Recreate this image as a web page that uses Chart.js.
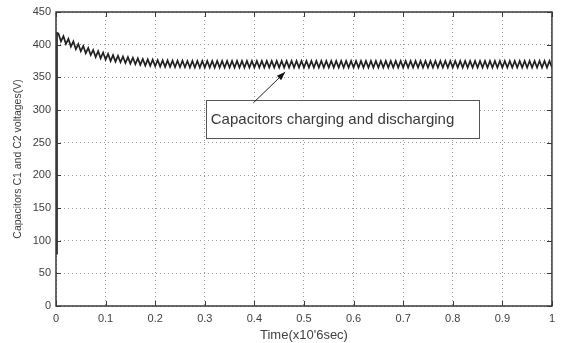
<!DOCTYPE html>
<html>
<head>
<meta charset="utf-8">
<script src="https://cdn.jsdelivr.net/npm/chart.js@4/dist/chart.umd.min.js"></script>
<style>
  body { margin: 0; background: #fff; }
  #wrap { width: 561px; height: 343px; }
</style>
</head>
<body>
<div id="wrap"><canvas id="myChart" width="561" height="343"></canvas></div>
<script>
// start-up: charging from low voltage to the first peak
const riseTime = [0, 0.002];
const riseVolts = [80, 418];

// ripple: one peak and one trough every 0.01 (x10^6 sec)
const rippleStep = 0.005;
const peakVolts = [
  417, 413, 409, 405, 401, 398, 395, 392, 390, 388,
  386, 384, 383, 382, 381, 380, 379, 378, 377.5, 377,
  376.5, 376, 376, 375.5, 375.5, 375.5, 375, 375, 375, 375,
  375, 375, 375, 375, 375, 375, 375, 375, 375, 375,
  375, 375, 375, 375, 375, 375, 375, 375, 375, 375,
  375, 375, 375, 375, 375, 375, 375, 375, 375, 375,
  375, 375, 375, 375, 375, 375, 375, 375, 375, 375,
  375, 375, 375, 375, 375, 375, 375, 375, 375, 375,
  375, 375, 375, 375, 375, 375, 375, 375, 375, 375,
  375, 375, 375, 375, 375, 375, 375, 375, 375, 375
];
const troughVolts = [
  405, 401, 397, 393, 390, 387, 384, 381, 379, 377,
  375, 374, 373, 372, 371, 370, 369, 368, 367.5, 367,
  366.5, 366, 366, 365.5, 365.5, 365.5, 365, 365, 365, 365,
  365, 365, 365, 365, 365, 365, 365, 365, 365, 365,
  365, 365, 365, 365, 365, 365, 365, 365, 365, 365,
  365, 365, 365, 365, 365, 365, 365, 365, 365, 365,
  365, 365, 365, 365, 365, 365, 365, 365, 365, 365,
  365, 365, 365, 365, 365, 365, 365, 365, 365, 365,
  365, 365, 365, 365, 365, 365, 365, 365, 365, 365,
  365, 365, 365, 365, 365, 365, 365, 365, 365, 365
];

const xTicks = [0, 0.1, 0.2, 0.3, 0.4, 0.5, 0.6, 0.7, 0.8, 0.9, 1];
const yTicks = [0, 50, 100, 150, 200, 250, 300, 350, 400, 450];

const noteText = 'Capacitors charging and discharging';
const noteBox = { x0: 0.302, x1: 0.852, y0: 315, y1: 257 };
const noteArrow = { fromX: 0.398, fromY: 311, toX: 0.462, toY: 358 };

// build point list
const points = [];
for (let i = 0; i < riseTime.length; i++) {
  points.push({ x: riseTime[i], y: riseVolts[i] });
}
for (let k = 0; k < peakVolts.length; k++) {
  points.push({ x: rippleStep * (2 * k + 1), y: peakVolts[k] });
  points.push({ x: rippleStep * (2 * k + 2), y: troughVolts[k] });
}

const axisColor = '#3a3a3a';
const textColor = '#404040';
const fontFam = '"Liberation Sans", Arial, sans-serif';

const frame = {
  id: 'frame',
  afterDraw(chart) {
    const ctx = chart.ctx;
    const a = chart.chartArea;
    const xs = chart.scales.x, ys = chart.scales.y;
    ctx.save();
    // box round the axes
    ctx.strokeStyle = axisColor;
    ctx.lineWidth = 1.5;
    ctx.strokeRect(a.left, a.top, a.right - a.left, a.bottom - a.top);
    // inward tick marks
    ctx.lineWidth = 1;
    ctx.beginPath();
    xTicks.forEach(v => {
      const px = Math.round(xs.getPixelForValue(v)) + 0.5;
      ctx.moveTo(px, a.bottom); ctx.lineTo(px, a.bottom - 5);
      ctx.moveTo(px, a.top); ctx.lineTo(px, a.top + 5);
    });
    yTicks.forEach(v => {
      const py = Math.round(ys.getPixelForValue(v)) + 0.5;
      ctx.moveTo(a.left, py); ctx.lineTo(a.left + 5, py);
      ctx.moveTo(a.right, py); ctx.lineTo(a.right - 5, py);
    });
    ctx.stroke();

    // annotation box
    const bx0 = xs.getPixelForValue(noteBox.x0), bx1 = xs.getPixelForValue(noteBox.x1);
    const by0 = ys.getPixelForValue(noteBox.y0), by1 = ys.getPixelForValue(noteBox.y1);
    ctx.fillStyle = '#ffffff';
    ctx.fillRect(bx0, by0, bx1 - bx0, by1 - by0);
    ctx.strokeStyle = '#555';
    ctx.lineWidth = 1;
    ctx.strokeRect(Math.round(bx0) + 0.5, Math.round(by0) + 0.5, Math.round(bx1 - bx0), Math.round(by1 - by0));
    ctx.fillStyle = '#3a3a3a';
    ctx.font = '15px ' + fontFam;
    ctx.textBaseline = 'middle';
    ctx.textAlign = 'left';
    ctx.fillText(noteText, bx0 + 5, (by0 + by1) / 2 + 1);

    // arrow
    const ax0 = xs.getPixelForValue(noteArrow.fromX), ay0 = ys.getPixelForValue(noteArrow.fromY);
    const ax1 = xs.getPixelForValue(noteArrow.toX), ay1 = ys.getPixelForValue(noteArrow.toY);
    ctx.strokeStyle = '#222';
    ctx.beginPath();
    ctx.moveTo(ax0, ay0); ctx.lineTo(ax1, ay1);
    ctx.stroke();
    const ang = Math.atan2(ay1 - ay0, ax1 - ax0);
    const hl = 9, hw = 0.35;
    ctx.fillStyle = '#111';
    ctx.beginPath();
    ctx.moveTo(ax1, ay1);
    ctx.lineTo(ax1 - hl * Math.cos(ang - hw), ay1 - hl * Math.sin(ang - hw));
    ctx.lineTo(ax1 - hl * Math.cos(ang + hw), ay1 - hl * Math.sin(ang + hw));
    ctx.closePath();
    ctx.fill();
    ctx.restore();
  }
};

new Chart(document.getElementById('myChart').getContext('2d'), {
  type: 'line',
  data: {
    datasets: [{
      data: points,
      borderColor: '#202020',
      borderWidth: 1.7,
      pointRadius: 0,
      tension: 0,
      fill: false
    }]
  },
  options: {
    responsive: false,
    animation: false,
    events: [],
    layout: { padding: { top: 12, right: 4, left: 0, bottom: 0 } },
    plugins: { legend: { display: false }, tooltip: { enabled: false } },
    scales: {
      x: {
        type: 'linear',
        min: 0, max: 1,
        afterBuildTicks: s => { s.ticks = xTicks.map(v => ({ value: v })); },
        afterFit: s => { s.height = 37; },
        grid: { color: '#9a9a9a', drawTicks: false },
        border: { display: false, dash: [1, 3] },
        ticks: {
          padding: 6,
          color: textColor,
          font: { family: fontFam, size: 11 },
          maxRotation: 0,
          callback: v => String(v)
        },
        title: {
          display: true,
          text: "Time(x10'6sec)",
          color: textColor,
          padding: { top: 0, bottom: 0 },
          font: { family: fontFam, size: 13 }
        }
      },
      y: {
        min: 0, max: 450,
        afterBuildTicks: s => { s.ticks = yTicks.map(v => ({ value: v })); },
        afterFit: s => { s.width = 56; },
        grid: { color: '#9a9a9a', drawTicks: false },
        border: { display: false, dash: [1, 3] },
        ticks: {
          padding: 5,
          color: textColor,
          font: { family: fontFam, size: 11 }
        },
        title: {
          display: true,
          text: 'Capacitors C1 and C2 voltages(V)',
          color: textColor,
          padding: { top: 12, bottom: 0 },
          font: { family: fontFam, size: 10.5 }
        }
      }
    }
  },
  plugins: [frame]
});
</script>
</body>
</html>
